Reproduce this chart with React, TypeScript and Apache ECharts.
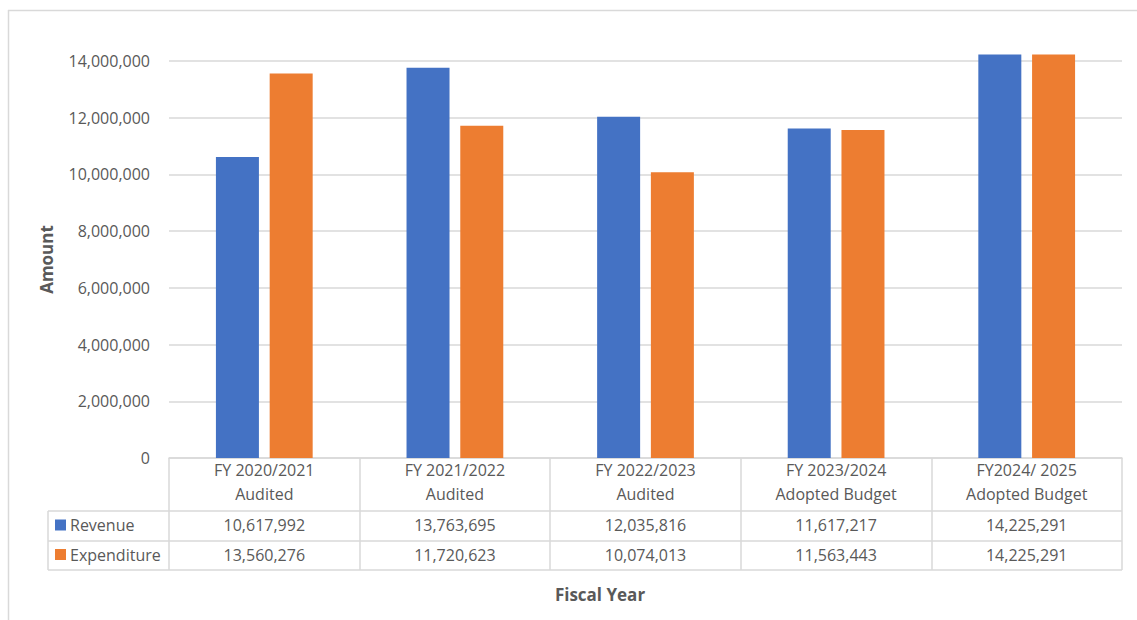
import React, { useEffect, useRef } from "react";
import * as echarts from "echarts";

// Fiscal years shown along the category axis and in the data table header
const fiscalYears = ["FY 2020/2021", "FY 2021/2022", "FY 2022/2023", "FY 2023/2024", "FY2024/ 2025"];
const yearStatus = ["Audited", "Audited", "Audited", "Adopted Budget", "Adopted Budget"];

const seriesNames = ["Revenue", "Expenditure"];
const revenue = [10617992, 13763695, 12035816, 11617217, 14225291];
const expenditure = [13560276, 11720623, 10074013, 11563443, 14225291];
const seriesColors = ["#4472C4", "#ED7D31"];

const yTicks = { min: 0, max: 14000000, interval: 2000000 };

const FONT = "Open Sans";
const TEXT = "#595959";
const RULE = "#d9d9d9";

// Layout of the plot and the data table beneath it
const W = 1137;
const H = 620;
const PLOT_L = 169;
const PLOT_R = 1122;
const PLOT_T = 61;
const AXIS_Y = 458;
const ROW1 = 511;
const ROW2 = 541;
const ROW3 = 570;
const TABLE_L = 48;

const fmt = (v: number) => v.toLocaleString("en-US");

export default function App() {
  const ref = useRef<HTMLDivElement>(null);

  useEffect(() => {
    if (!ref.current) return;
    const chart = echarts.init(ref.current, undefined, { renderer: "svg" });
    const categories = fiscalYears.map((y, i) => `${y}\n${yearStatus[i]}`);
    const rowValues = [revenue, expenditure];
    const rowCenters = [(ROW1 + ROW2) / 2 - 1, (ROW2 + ROW3) / 2 - 1];

    const hLine = (y: number, x1: number, x2: number) => ({
      type: "line",
      shape: { x1, y1: y, x2, y2: y },
      style: { stroke: RULE, lineWidth: 1.5 },
      silent: true,
    });

    const legendCells: any[] = [];
    seriesNames.forEach((name, i) => {
      legendCells.push({
        type: "rect",
        shape: { x: 55, y: rowCenters[i] - 5.5, width: 11, height: 11 },
        style: { fill: seriesColors[i] },
      });
      legendCells.push({
        type: "text",
        x: 70,
        y: rowCenters[i],
        style: {
          text: name,
          fill: TEXT,
          font: `16px "${FONT}"`,
          verticalAlign: "middle",
          align: "left",
        },
      });
    });

    const valueAxes = rowValues.map((vals, r) => ({
      type: "category",
      gridIndex: 0,
      position: "bottom",
      data: categories,
      axisLine: { show: false },
      axisTick: { show: false },
      splitLine: { show: false },
      axisLabel: {
        interval: 0,
        margin: rowCenters[r] - AXIS_Y,
        verticalAlign: "middle",
        color: TEXT,
        fontSize: 16,
        fontFamily: FONT,
        formatter: (_v: string, idx: number) => fmt(vals[idx]),
      },
    }));

    chart.setOption({
      animation: false,
      textStyle: { fontFamily: FONT },
      grid: {
        left: PLOT_L,
        right: W - PLOT_R,
        top: PLOT_T,
        bottom: H - AXIS_Y,
        containLabel: false,
      },
      xAxis: [
        {
          type: "category",
          data: categories,
          axisLine: { lineStyle: { color: RULE, width: 1.5 } },
          axisTick: {
            show: true,
            length: ROW3 - AXIS_Y,
            lineStyle: { color: RULE, width: 1.5 },
          },
          axisLabel: {
            interval: 0,
            margin: (ROW1 - AXIS_Y) / 2 - 2.5,
            verticalAlign: "middle",
            color: TEXT,
            fontSize: 16,
            lineHeight: 24,
            fontFamily: FONT,
          },
        },
        ...valueAxes,
      ],
      yAxis: {
        type: "value",
        min: yTicks.min,
        max: yTicks.max,
        interval: yTicks.interval,
        name: "Amount",
        nameLocation: "middle",
        nameGap: PLOT_L - 55,
        nameTextStyle: { color: TEXT, fontSize: 17, fontWeight: "bold", fontFamily: FONT },
        axisLine: { show: false },
        axisTick: { show: false },
        axisLabel: {
          margin: 19,
          color: TEXT,
          fontSize: 16,
          fontFamily: FONT,
          formatter: (v: number) => fmt(v),
        },
        splitLine: { lineStyle: { color: RULE, width: 1.5 } },
      },
      series: [
        {
          name: seriesNames[0],
          type: "bar",
          data: revenue,
          barWidth: 43,
          barGap: "25%",
          clip: false,
          itemStyle: { color: seriesColors[0] },
        },
        {
          name: seriesNames[1],
          type: "bar",
          data: expenditure,
          barWidth: 43,
          barGap: "25%",
          clip: false,
          itemStyle: { color: seriesColors[1] },
        },
      ],
      graphic: [
        // chart frame (top and left edges)
        hLine(10.5, 8, W),
        {
          type: "line",
          shape: { x1: 8.5, y1: 10, x2: 8.5, y2: H },
          style: { stroke: RULE, lineWidth: 1.5 },
          silent: true,
        },
        // data table rules
        hLine(ROW1, TABLE_L, PLOT_R),
        hLine(ROW2, TABLE_L, PLOT_R),
        hLine(ROW3, TABLE_L, PLOT_R),
        {
          type: "line",
          shape: { x1: TABLE_L, y1: ROW1, x2: TABLE_L, y2: ROW3 },
          style: { stroke: RULE, lineWidth: 1.5 },
          silent: true,
        },
        ...legendCells,
        {
          type: "text",
          x: 600,
          y: 594,
          style: {
            text: "Fiscal Year",
            fill: TEXT,
            font: `bold 17px "${FONT}"`,
            align: "center",
            verticalAlign: "middle",
          },
        },
      ],
    });
    return () => chart.dispose();
  }, []);

  return (
    <div
      ref={ref}
      style={{ position: "fixed", left: 0, top: 0, width: W, height: H, background: "#fff" }}
    />
  );
}
